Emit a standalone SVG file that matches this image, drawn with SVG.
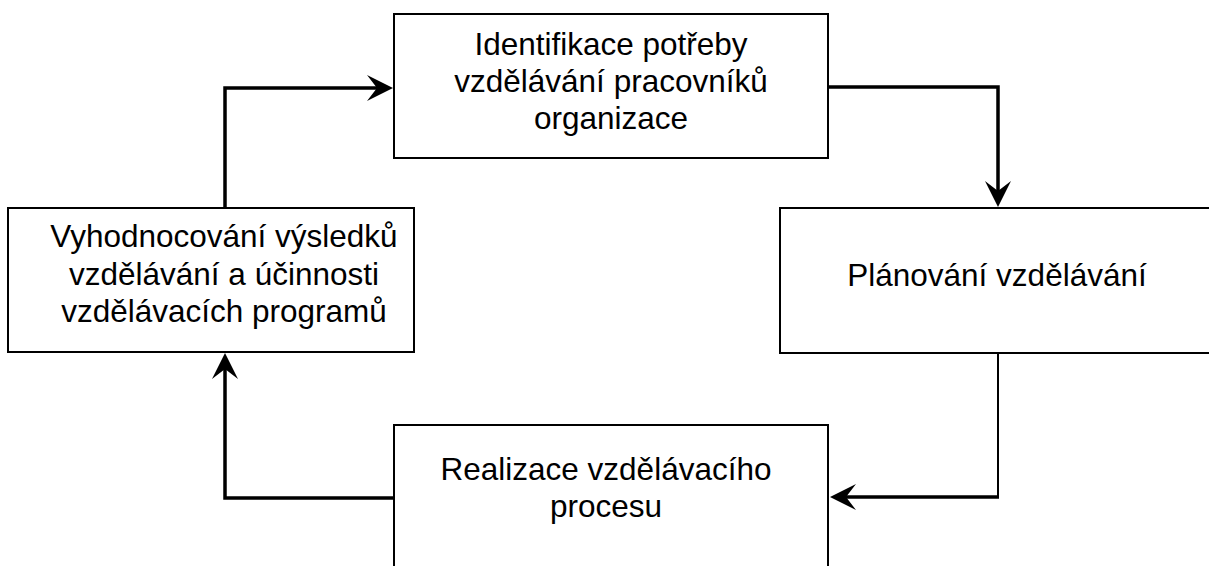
<svg xmlns="http://www.w3.org/2000/svg" width="1209" height="566" viewBox="0 0 1209 566">
<style>
.box{fill:#fff;stroke:#000;stroke-width:2}
.lbl{font-family:"Liberation Sans",Arial,sans-serif;font-size:31.5px;fill:#000;text-anchor:middle}
.con{fill:none;stroke:#000;stroke-width:3.5}
.thin{fill:none;stroke:#000;stroke-width:2}
</style>
<defs>
<marker id="arr" markerUnits="userSpaceOnUse" markerWidth="26" markerHeight="26" viewBox="0 0 26 26" refX="10" refY="13" orient="auto">
<path d="M0,0 L26,13 L0,26 L10,13 Z" fill="#000"/>
</marker>
</defs>
<rect width="1209" height="566" fill="#fff"/>
<g id="n1">
<rect class="box" x="394" y="14" width="434" height="144"/>
<text class="lbl" x="611" y="55">Identifikace potřeby</text>
<text class="lbl" x="611" y="92">vzdělávání pracovníků</text>
<text class="lbl" x="611" y="129">organizace</text>
</g>
<g id="n2">
<rect class="box" x="780" y="208" width="440" height="145"/>
<text class="lbl" x="997" y="286">Plánování vzdělávání</text>
</g>
<g id="n3">
<rect class="box" x="394" y="425" width="434" height="150"/>
<text class="lbl" x="606" y="480">Realizace vzdělávacího</text>
<text class="lbl" x="606" y="517">procesu</text>
</g>
<g id="n4">
<rect class="box" x="8" y="208" width="406" height="144"/>
<text class="lbl" x="224" y="247">Vyhodnocování výsledků</text>
<text class="lbl" x="224" y="285">vzdělávání a účinnosti</text>
<text class="lbl" x="224" y="322">vzdělávacích programů</text>
</g>
<g id="connectors">
<path class="con" d="M225,208 V88 H377" marker-end="url(#arr)"/>
<path class="con" d="M828,87 H998 V191" marker-end="url(#arr)"/>
<path class="thin" d="M998,353 V497"/>
<path class="con" d="M999,497 H846" marker-end="url(#arr)"/>
<path class="con" d="M394,498 H225 V369" marker-end="url(#arr)"/>
</g>
</svg>
